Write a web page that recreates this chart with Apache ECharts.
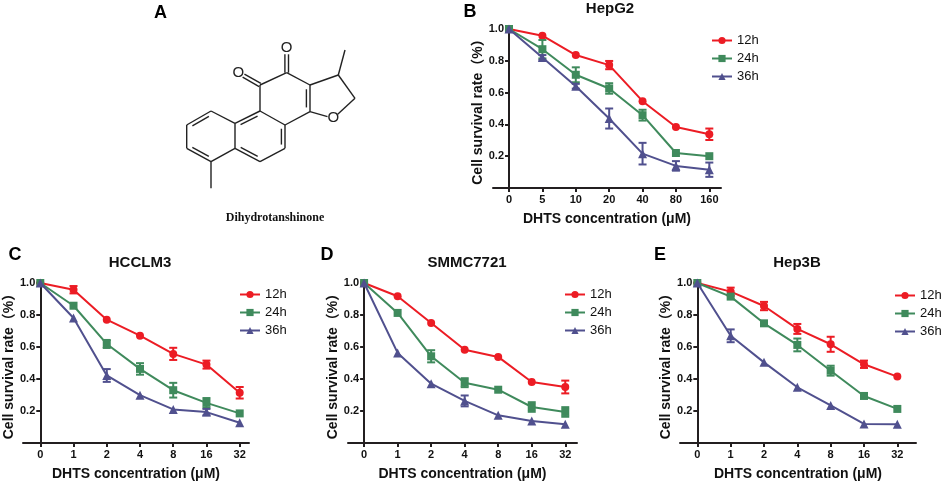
<!DOCTYPE html>
<html>
<head>
<meta charset="utf-8">
<title>DHTS cell survival</title>
<script src="https://cdn.jsdelivr.net/npm/echarts@6.0.0/dist/echarts.min.js"></script>
<style>
    html, body { margin: 0; padding: 0; background: #fff; }
    #main { width: 941px; height: 484px; }
</style>
</head>
<body>
<div id="main"></div>
<script>
// dose labels
var hepg2Doses = ['0', '5', '10', '20', '40', '80', '160'];
var otherDoses = ['0', '1', '2', '4', '8', '16', '32'];
var yTicks = [0.2, 0.4, 0.6, 0.8, 1.0];
var xTicks = [0, 1, 2, 3, 4, 5, 6];

// HepG2
var hepg2_12h = [1.00, 0.958, 0.836, 0.773, 0.546, 0.384, 0.338];
var hepg2_12hErr = [0, 0, 0, 0.026, 0, 0, 0.036];
var hepg2_24h = [1.00, 0.873, 0.712, 0.626, 0.458, 0.220, 0.200];
var hepg2_24hErr = [0, 0.058, 0.047, 0.033, 0.034, 0, 0];
var hepg2_36h = [1.00, 0.821, 0.640, 0.437, 0.216, 0.139, 0.115];
var hepg2_36hErr = [0, 0.015, 0.015, 0.063, 0.068, 0.030, 0.045];

// HCCLM3
var hcclm3_12h = [1.00, 0.958, 0.771, 0.671, 0.557, 0.490, 0.314];
var hcclm3_12hErr = [0, 0.023, 0, 0, 0.038, 0.025, 0.036];
var hcclm3_24h = [1.00, 0.858, 0.619, 0.463, 0.330, 0.251, 0.185];
var hcclm3_24hErr = [0, 0, 0.025, 0.036, 0.046, 0.030, 0];
var hcclm3_36h = [1.00, 0.781, 0.422, 0.299, 0.210, 0.193, 0.127];
var hcclm3_36hErr = [0, 0, 0.040, 0, 0, 0.020, 0];

// SMMC7721
var smmc_12h = [1.00, 0.917, 0.750, 0.583, 0.538, 0.381, 0.350];
var smmc_12hErr = [0, 0, 0, 0, 0, 0, 0.040];
var smmc_24h = [1.00, 0.813, 0.542, 0.377, 0.333, 0.225, 0.194];
var smmc_24hErr = [0, 0, 0.038, 0.028, 0, 0.030, 0.030];
var smmc_36h = [1.00, 0.563, 0.371, 0.263, 0.173, 0.138, 0.117];
var smmc_36hErr = [0, 0, 0, 0.034, 0, 0, 0];

// Hep3B
var hep3b_12h = [1.00, 0.946, 0.856, 0.713, 0.617, 0.492, 0.415];
var hep3b_12hErr = [0, 0.025, 0.026, 0.031, 0.047, 0.023, 0];
var hep3b_24h = [1.00, 0.915, 0.748, 0.613, 0.452, 0.294, 0.213];
var hep3b_24hErr = [0, 0, 0, 0.040, 0.031, 0, 0];
var hep3b_36h = [1.00, 0.670, 0.504, 0.348, 0.235, 0.119, 0.117];
var hep3b_36hErr = [0, 0.040, 0, 0, 0, 0, 0];

var SANS = '"Liberation Sans", Arial, "Noto Sans CJK SC", sans-serif';
var AXIS = '#231f20';
var RED = '#ec1c24';
var GREEN = '#3f8a5c';
var PURPLE = '#50508e';

var panels = [
    { title: 'HepG2', letter: 'B', doses: hepg2Doses, grid: { left: 493, top: 29, width: 228, height: 159 }, xMin: -0.48, xMax: 6.35,
      titlePos: [610, 9], letterPos: [470, 12], legendPos: [706, 29],
      lines: [[hepg2_12h, hepg2_12hErr], [hepg2_24h, hepg2_24hErr], [hepg2_36h, hepg2_36hErr]] },
    { title: 'HCCLM3', letter: 'C', doses: otherDoses, grid: { left: 23, top: 283, width: 226, height: 160 }, xMin: -0.52, xMax: 6.28,
      titlePos: [140, 263], letterPos: [15, 255], legendPos: [234, 283],
      lines: [[hcclm3_12h, hcclm3_12hErr], [hcclm3_24h, hcclm3_24hErr], [hcclm3_36h, hcclm3_36hErr]] },
    { title: 'SMMC7721', letter: 'D', doses: otherDoses, grid: { left: 348, top: 283, width: 229, height: 160 }, xMin: -0.48, xMax: 6.35,
      titlePos: [467, 263], letterPos: [327, 255], legendPos: [559, 283],
      lines: [[smmc_12h, smmc_12hErr], [smmc_24h, smmc_24hErr], [smmc_36h, smmc_36hErr]] },
    { title: 'Hep3B', letter: 'E', doses: otherDoses, grid: { left: 680, top: 283, width: 236, height: 160 }, xMin: -0.52, xMax: 6.56,
      titlePos: [797, 263], letterPos: [660, 255], legendPos: [889, 284],
      lines: [[hep3b_12h, hep3b_12hErr], [hep3b_24h, hep3b_24hErr], [hep3b_36h, hep3b_36hErr]] }
];

var seriesNames = ['12h', '24h', '36h'];
var seriesColors = [RED, GREEN, PURPLE];
var seriesSymbols = ['circle', 'rect', 'triangle'];
var seriesSizes = [8, 8, 9];

// error bar drawing
function renderErr(params, api) {
    var x = api.value(0);
    var lo = api.value(1);
    var hi = api.value(2);
    if (hi - lo <= 0) return;
    var top = api.coord([x, hi]);
    var bot = api.coord([x, lo]);
    var half = 4;
    var st = { stroke: api.visual('color'), lineWidth: 2 };
    return {
        type: 'group',
        children: [
            { type: 'line', shape: { x1: top[0], y1: top[1], x2: bot[0], y2: bot[1] }, style: st },
            { type: 'line', shape: { x1: top[0] - half, y1: top[1], x2: top[0] + half, y2: top[1] }, style: st },
            { type: 'line', shape: { x1: bot[0] - half, y1: bot[1], x2: bot[0] + half, y2: bot[1] }, style: st }
        ]
    };
}

var grids = [], xAxes = [], yAxes = [], series = [], legends = [], graphics = [];

panels.forEach(function (p, pi) {
    var g = p.grid;
    g.outerBoundsMode = 'none';
    g.containLabel = false;
    grids.push(g);
    var doses = p.doses;
    // y axis sits at x = 0, a little inside the grid's left edge
    var yOffset = -(0 - p.xMin) / (p.xMax - p.xMin) * g.width;
    xAxes.push({
        gridIndex: pi, type: 'value', min: p.xMin, max: p.xMax,
        name: 'DHTS concentration (μM)', nameLocation: 'middle', nameGap: 24, nameMoveOverlap: false,
        nameTextStyle: { fontFamily: SANS, fontWeight: 'bold', fontSize: 14, color: '#111' },
        axisLine: { onZero: false, lineStyle: { color: AXIS, width: 2 } },
        axisTick: { show: true, customValues: xTicks, length: 4, lineStyle: { color: AXIS, width: 2 } },
        axisLabel: { customValues: xTicks, margin: 6, fontFamily: SANS, fontWeight: 'bold', fontSize: 11, color: '#111',
            formatter: function (v) { return doses[Math.round(v)]; } },
        splitLine: { show: false }
    });
    yAxes.push({
        gridIndex: pi, type: 'value', min: 0, max: 1.0, offset: yOffset,
        name: 'Cell survival rate（%）', nameLocation: 'middle', nameGap: 24, nameMoveOverlap: false,
        nameTextStyle: { fontFamily: SANS, fontWeight: 'bold', fontSize: 14, color: '#111' },
        axisLine: { onZero: false, lineStyle: { color: AXIS, width: 2 } },
        axisTick: { show: true, customValues: yTicks, length: 4, lineStyle: { color: AXIS, width: 2 } },
        axisLabel: { customValues: yTicks, margin: 5, fontFamily: SANS, fontWeight: 'bold', fontSize: 11, color: '#111',
            formatter: function (v) { return v.toFixed(1); } },
        splitLine: { show: false }
    });

    p.lines.forEach(function (pair, si) {
        var means = pair[0], errs = pair[1];
        series.push({
            name: seriesNames[si], type: 'line', xAxisIndex: pi, yAxisIndex: pi,
            data: means.map(function (v, i) { return [i, v]; }),
            symbol: seriesSymbols[si], symbolSize: seriesSizes[si], showAllSymbol: true,
            lineStyle: { color: seriesColors[si], width: 2 },
            itemStyle: { color: seriesColors[si] },
            z: 3 + si, animation: false
        });
        series.push({
            type: 'custom', xAxisIndex: pi, yAxisIndex: pi,
            itemStyle: { color: seriesColors[si] },
            data: means.map(function (v, i) { return [i, v - errs[i], v + errs[i]]; }),
            encode: { x: 0, y: [1, 2] },
            renderItem: renderErr, z: 3 + si, animation: false
        });
    });

    legends.push({
        orient: 'vertical', left: p.legendPos[0], top: p.legendPos[1],
        data: seriesNames, itemWidth: 20, itemHeight: 9, itemGap: 5,
        selectedMode: false,
        textStyle: { fontFamily: SANS, fontSize: 13, color: '#111' }
    });

    graphics.push({ type: 'text', x: p.titlePos[0], y: p.titlePos[1],
        style: { text: p.title, font: 'bold 15px ' + SANS, fill: '#111', textAlign: 'center', textVerticalAlign: 'middle' } });
    graphics.push({ type: 'text', x: p.letterPos[0], y: p.letterPos[1],
        style: { text: p.letter, font: 'bold 18px ' + SANS, fill: '#000', textAlign: 'center', textVerticalAlign: 'middle' } });
});

// panel A: structure of dihydrotanshinone
var atoms = {
    a1: [211, 111], a2: [186.7, 125], a3: [186.7, 148.3], a4: [211, 161.7], a5: [235, 148.3], a6: [235, 123.3],
    m1: [260, 111], m2: [285, 125], m3: [285, 148.3], m4: [260, 161.7],
    q1: [260, 85], q2: [286.7, 72.7], q3: [310, 85], q4: [310, 111.7],
    o1: [238.3, 72.7], o2: [286.7, 48.3], of: [333.3, 118.3], f1: [355, 98.3], f2: [338.3, 75],
    me1: [345, 50], me2: [211, 188.3]
};
var ringCenters = { L: [211, 136.3], M: [260, 136.3], Q: [285.3, 98.4] };
// [from, to, kind, ring]  kind: 1 single, 2 ring double, 3 exo double
var bonds = [
    ['a1', 'a2', 2, 'L'], ['a2', 'a3', 1], ['a3', 'a4', 2, 'L'], ['a4', 'a5', 1], ['a5', 'a6', 1], ['a6', 'a1', 1],
    ['a6', 'm1', 2, 'M'], ['m1', 'm2', 1], ['m2', 'm3', 2, 'M'], ['m3', 'm4', 1], ['m4', 'a5', 2, 'M'],
    ['m1', 'q1', 1], ['q1', 'q2', 1], ['q2', 'q3', 1], ['q3', 'q4', 2, 'Q'], ['q4', 'm2', 1],
    ['q1', 'o1', 3], ['q2', 'o2', 3], ['q4', 'of', 1], ['of', 'f1', 1], ['f1', 'f2', 1], ['f2', 'q3', 1],
    ['f2', 'me1', 1], ['a4', 'me2', 1]
];
var oxygens = { o1: true, o2: true, of: true };
var bondStyle = { stroke: '#222', lineWidth: 1.4 };

function seg(p, q) {
    return { type: 'line', shape: { x1: p[0], y1: p[1], x2: q[0], y2: q[1] }, style: bondStyle };
}
bonds.forEach(function (b) {
    var p = atoms[b[0]].slice(), q = atoms[b[1]].slice();
    var dx = q[0] - p[0], dy = q[1] - p[1], len = Math.sqrt(dx * dx + dy * dy);
    var ux = dx / len, uy = dy / len;
    if (oxygens[b[0]]) { p = [p[0] + ux * 6, p[1] + uy * 6]; }
    if (oxygens[b[1]]) { q = [q[0] - ux * 6, q[1] - uy * 6]; }
    if (b[2] === 3) {
        var nx = -uy * 1.8, ny = ux * 1.8;
        graphics.push(seg([p[0] + nx, p[1] + ny], [q[0] + nx, q[1] + ny]));
        graphics.push(seg([p[0] - nx, p[1] - ny], [q[0] - nx, q[1] - ny]));
        return;
    }
    graphics.push(seg(p, q));
    if (b[2] === 2) {
        var c = ringCenters[b[3]];
        var mx = (p[0] + q[0]) / 2, my = (p[1] + q[1]) / 2;
        var nx2 = -uy, ny2 = ux;
        if ((c[0] - mx) * nx2 + (c[1] - my) * ny2 < 0) { nx2 = -nx2; ny2 = -ny2; }
        var off = 3.6, sh = 0.16;
        var p2 = [p[0] + dx * sh + nx2 * off, p[1] + dy * sh + ny2 * off];
        var q2 = [q[0] - dx * sh + nx2 * off, q[1] - dy * sh + ny2 * off];
        graphics.push(seg(p2, q2));
    }
});
Object.keys(oxygens).forEach(function (k) {
    graphics.push({ type: 'text', x: atoms[k][0], y: atoms[k][1],
        style: { text: 'O', font: '15px ' + SANS, fill: '#222', textAlign: 'center', textVerticalAlign: 'middle' } });
});
graphics.push({ type: 'text', x: 160.5, y: 13,
    style: { text: 'A', font: 'bold 18px ' + SANS, fill: '#000', textAlign: 'center', textVerticalAlign: 'middle' } });
graphics.push({ type: 'text', x: 275, y: 218,
    style: { text: 'Dihydrotanshinone', font: 'bold 12px "Liberation Serif", "Times New Roman", serif', fill: '#111', textAlign: 'center', textVerticalAlign: 'middle' } });

var chart = echarts.init(document.getElementById('main'));
chart.setOption({
    backgroundColor: '#fff',
    animation: false,
    grid: grids,
    xAxis: xAxes,
    yAxis: yAxes,
    legend: legends,
    series: series,
    graphic: graphics
});
</script>
</body>
</html>
